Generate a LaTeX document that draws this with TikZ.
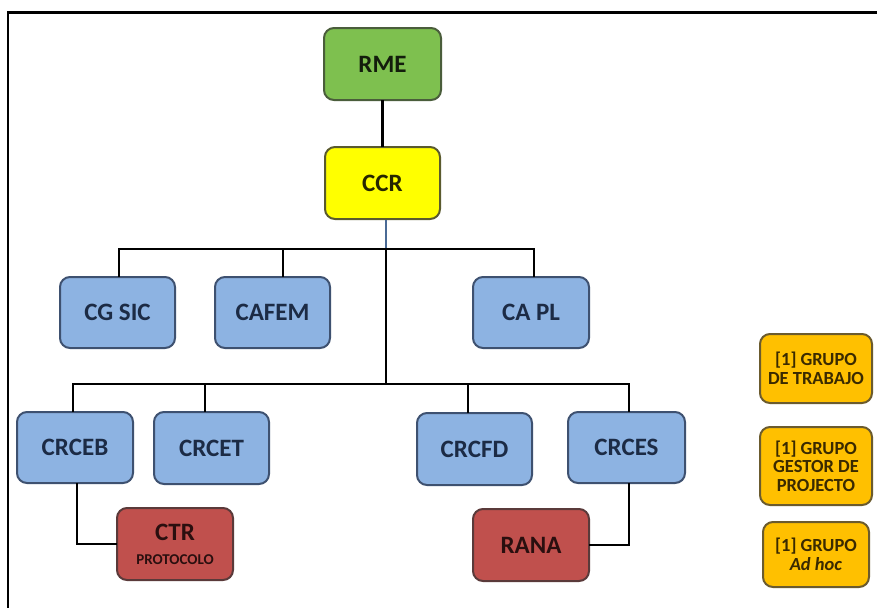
\documentclass[tikz,border=0pt]{standalone}
\usepackage{fontspec}
\setmainfont{Carlito}
\definecolor{gfill}{HTML}{7EC04F}
\definecolor{gline}{HTML}{4A5D3B}
\definecolor{yfill}{HTML}{FFFF00}
\definecolor{yline}{HTML}{5A5A2E}
\definecolor{bfill}{HTML}{8DB3E2}
\definecolor{bline}{HTML}{3E5170}
\definecolor{btext}{HTML}{1C2B45}
\definecolor{rfill}{HTML}{C0504D}
\definecolor{rline}{HTML}{5A3A3A}
\definecolor{rtext}{HTML}{2A0F0F}
\definecolor{ofill}{HTML}{FFC000}
\definecolor{oline}{HTML}{6B5B2E}
\definecolor{otext}{HTML}{3A2A00}
\definecolor{stemcol}{HTML}{4A6A95}
\tikzset{
  box/.style={draw, line width=2pt, rounded corners=10pt, align=center,
    inner sep=0pt, font=\fontsize{25}{28}\selectfont\bfseries},
  green box/.style={box, fill=gfill, draw=gline, text=black!85!gfill},
  yellow box/.style={box, fill=yfill, draw=yline, text=black!85!yfill},
  blue box/.style={box, fill=bfill, draw=bline, text=btext},
  red box/.style={box, fill=rfill, draw=rline, text=rtext},
  legend box/.style={box, fill=ofill, draw=oline, text=otext,
    font=\fontsize{18.5}{18.5}\selectfont\bfseries},
  conn/.style={draw=black, line width=2.7pt, line join=miter, line cap=rect},
  stem/.style={draw=stemcol, line width=1.4pt},
  frameline/.style={draw=black, line width=2.8pt}
}
\begin{document}
\begin{tikzpicture}[x=1pt,y=-1pt]
\useasboundingbox (0,0) rectangle (877,608);
\fill[white] (0,0) rectangle (877,608);

% outer frame (top and left edges)
\draw[frameline] (877,12.7) -- (8,12.7) -- (8,608);

% top of the hierarchy
\node[green box, minimum width=117pt, minimum height=72pt] (RME) at (382.5,64) {RME};
\node[yellow box, minimum width=115pt, minimum height=72pt] (CCR) at (382.5,183) {CCR};

% first row of committees
\node[blue box, minimum width=115pt, minimum height=71pt] (CGSIC) at (117.5,312.5) {CG SIC};
\node[blue box, minimum width=115pt, minimum height=71pt] (CAFEM) at (272.5,312.5) {CAFEM};
\node[blue box, minimum width=116pt, minimum height=71pt] (CAPL) at (531,312.5) {CA PL};

% regional centres
\node[blue box, minimum width=116pt, minimum height=71pt] (CRCEB) at (75,447.5) {CRCEB};
\node[blue box, minimum width=115pt, minimum height=72pt] (CRCET) at (211.5,448) {CRCET};
\node[blue box, minimum width=115pt, minimum height=72pt] (CRCFD) at (474.5,449) {CRCFD};
\node[blue box, minimum width=117pt, minimum height=71pt] (CRCES) at (626.5,447.5) {CRCES};

% dependent units
\node[red box, minimum width=116pt, minimum height=72pt] (CTR) at (175,544)
  {CTR\\[-4pt]{\fontsize{15}{17}\selectfont PROTOCOLO}};
\node[red box, minimum width=116pt, minimum height=72pt] (RANA) at (531,545) {RANA};

% legend
\node[legend box, minimum width=112pt, minimum height=69pt] (L1) at (816,368.5)
  {[1] GRUPO\\DE TRABAJO};
\node[legend box, minimum width=112pt, minimum height=78pt] (L2) at (816,466)
  {[1] GRUPO\\GESTOR DE\\PROJECTO};
\node[legend box, minimum width=106pt, minimum height=65pt] (L3) at (816,554.5)
  {[1] GRUPO\\\textit{Ad hoc}};

% bus taps
\coordinate (hub1) at (386,249);
\coordinate (hub2) at (386,384);
\coordinate (a1) at (119,249);
\coordinate (a2) at (283,249);
\coordinate (a3) at (534,249);
\coordinate (b1) at (73,384);
\coordinate (b2) at (205,384);
\coordinate (b3) at (468,384);
\coordinate (b4) at (629,384);
\coordinate (e1) at (77,544);
\coordinate (e2) at (629,545);

% connectors
\draw[conn] (RME.south) -- (CCR.north);
\draw[stem] (hub1 |- CCR.south) -- (hub1);
\draw[conn] (hub1) -- (hub2);
\draw[conn] (a1) -- (a3);
\draw[conn] (a1) -- (a1 |- CGSIC.north);
\draw[conn] (a2) -- (a2 |- CAFEM.north);
\draw[conn] (a3) -- (a3 |- CAPL.north);
\draw[conn] (b1) -- (b4);
\draw[conn] (b1) -- (b1 |- CRCEB.north);
\draw[conn] (b2) -- (b2 |- CRCET.north);
\draw[conn] (b3) -- (b3 |- CRCFD.north);
\draw[conn] (b4) -- (b4 |- CRCES.north);
\draw[conn] (e1 |- CRCEB.south) -- (e1) -- (CTR.west);
\draw[conn] (e2 |- CRCES.south) -- (e2) -- (RANA.east);
\end{tikzpicture}
\end{document}
